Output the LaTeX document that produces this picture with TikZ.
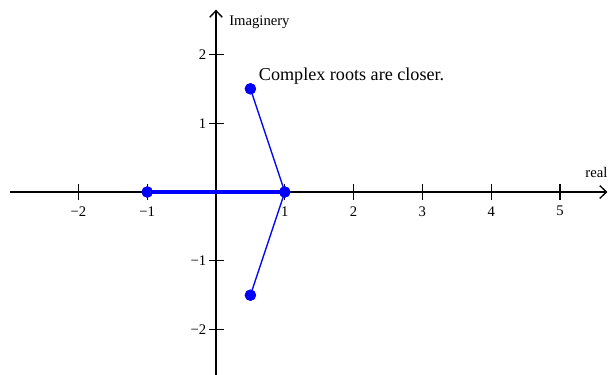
\documentclass[tikz,border=0pt]{standalone}
\usepackage{fontspec}
\setmainfont{Liberation Serif}
\usetikzlibrary{arrows.meta}
\begin{document}
\begin{tikzpicture}[x=51.6pt,y=51.6pt,
  axis/.style={line width=1pt,-{Straight Barb[length=5pt,width=9.5pt,line width=1pt]}},
  tick/.style={line width=1pt},
  lbl/.style={font=\fontsize{11}{13}\selectfont,inner sep=1pt},
  dot/.style={circle,fill=blue,inner sep=0pt,minimum size=8.5pt},
  rootline/.style={blue,line width=1pt},
  thickline/.style={blue,line width=3pt}]
\useasboundingbox (-3.140,-2.660) rectangle (5.698,2.791);
% axes
\coordinate (xs) at (-3.0,0);
\coordinate (xe) at (5.69,0);
\coordinate (ys) at (0,-2.70);
\coordinate (ye) at (0,2.65);
\draw[axis] (xs) -- (xe);
\draw[axis] (ys) -- (ye);
\node[lbl,anchor=south] (real) at (5.53,0.18) {real};
\node[lbl,anchor=west] (imag) at (0.17,2.47) {Imaginery};
% x ticks
\foreach \x/\t in {-2/{−2},-1/{−1},1/1,2/2,3/3,4/4,5/5}{
  \draw[tick] (\x,-0.11) -- (\x,0.11);
  \node[lbl] (xl\x) at (\x,-0.28) {\t};
}
% y ticks
\foreach \y/\t in {-2/{−2},-1/{−1},1/1,2/2}{
  \draw[tick] (-0.1,\y) -- (0.12,\y);
  \node[lbl,anchor=east] (yl\y) at (-0.12,\y) {\t};
}
% roots
\node[dot] (pm1) at (-1,0) {};
\node[dot] (p1) at (1,0) {};
\node[dot] (cu) at (0.5,1.5) {};
\node[dot] (cd) at (0.5,-1.5) {};
\draw[thickline] (pm1.center) -- (p1.center);
\draw[rootline] (cu.center) -- (p1.center) -- (cd.center);
\node[dot] at (-1,0) {};
\node[dot] at (1,0) {};
\node[dot] at (0.5,1.5) {};
\node[dot] at (0.5,-1.5) {};
\node[font=\fontsize{13.6}{16}\selectfont,anchor=west,inner sep=0pt] (txt) at (0.62,1.68) {Complex roots are closer.};
\end{tikzpicture}
\end{document}
